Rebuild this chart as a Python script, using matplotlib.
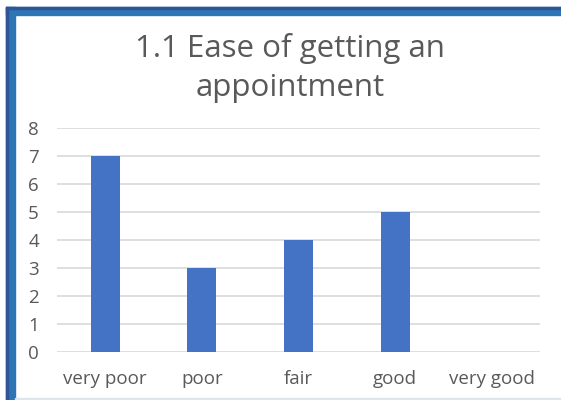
import matplotlib
matplotlib.use('Agg')
import matplotlib.pyplot as plt
from matplotlib.patches import Rectangle

categories = ['very poor', 'poor', 'fair', 'good', 'very good']
counts = [7, 3, 4, 5, 0]
y_ticks = list(range(0, 9))
title = '1.1 Ease of getting an\nappointment'

plt.rcParams['font.family'] = ['Open Sans', 'DejaVu Sans']
W, H = 561, 400
fig = plt.figure(figsize=(W / 100, H / 100), dpi=100)
fig.patch.set_facecolor('white')

# blue frame on left/top edges (as in the screenshot)
fig.add_artist(Rectangle((6 / W, 0), 9 / W, 1 - 7 / H, transform=fig.transFigure, color='#2E75B6', zorder=0))
fig.add_artist(Rectangle((6 / W, 1 - 15 / H), 1, 8 / H, transform=fig.transFigure, color='#2E75B6', zorder=0))
fig.add_artist(Rectangle((6 / W, 1 - 9 / H), 1, 2 / H, transform=fig.transFigure, color='#2F5597', zorder=0))
fig.add_artist(Rectangle((6 / W, 0), 2 / W, 1 - 7 / H, transform=fig.transFigure, color='#2F5597', zorder=0))
fig.add_artist(Rectangle((15 / W, 0), 1, 2 / H, transform=fig.transFigure, color='#DDE6EE', zorder=0))

ax = fig.add_axes([57 / W, 1 - 352 / H, 483 / W, 224 / H])
x = list(range(len(categories)))
ax.bar(x, counts, width=0.3, color='#4472C4', zorder=3)
ax.set_xlim(-0.5, len(categories) - 0.5)
ax.set_ylim(0, 8)
ax.set_yticks(y_ticks)
ax.set_xticks(x)
ax.set_xticklabels(categories)
ax.yaxis.grid(True, color='#D9D9D9', linewidth=1.2, zorder=0)
for s in ax.spines.values():
    s.set_visible(False)
ax.tick_params(axis='both', length=0, labelsize=13.5, colors='#595959')
ax.tick_params(axis='x', pad=13)
ax.tick_params(axis='y', pad=13)
fig.text(290 / W, 1 - 68 / H, title, ha='center', va='center', fontsize=22.5,
         color='#595959', linespacing=1.36)

fig.savefig('out.png', dpi=100)
